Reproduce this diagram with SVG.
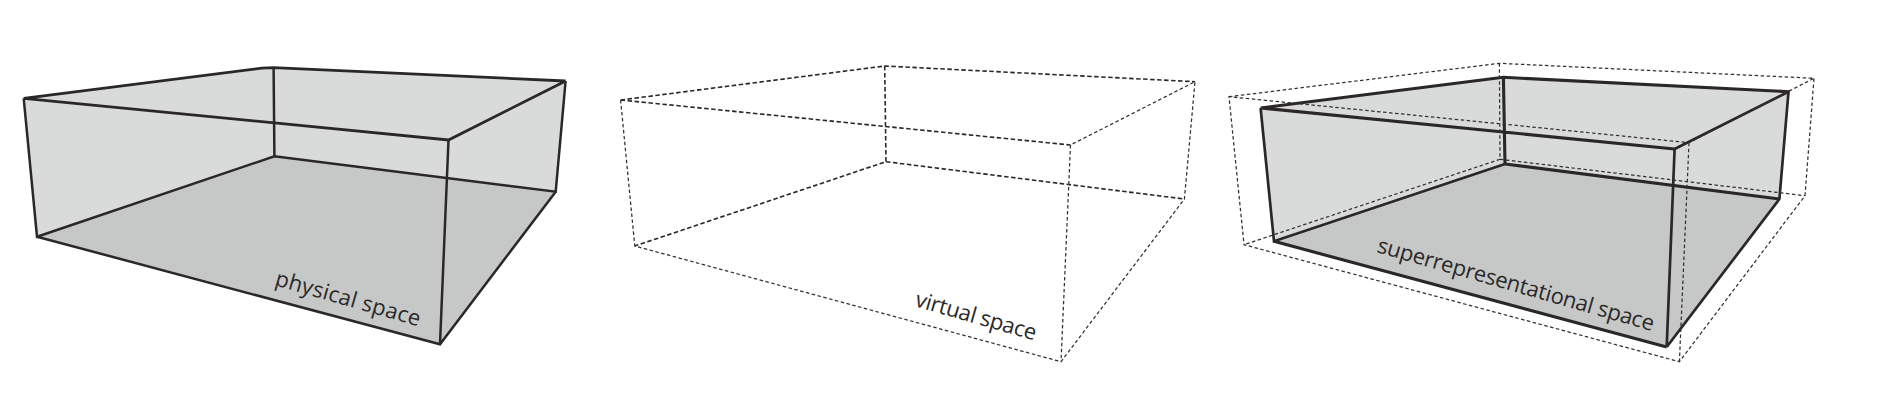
<svg xmlns="http://www.w3.org/2000/svg" width="1886" height="408" viewBox="0 0 1886 408">
<style>
.wall{fill:#d9dbda;stroke:none}
.floor{fill:#c6c8c7;stroke:none}
.e{fill:none;stroke:#2b2728;stroke-linejoin:miter;stroke-linecap:butt}
.s1{stroke-width:2.8}
.s2{stroke-width:2.5}
.s3{stroke-width:3.1}
.s4{stroke-width:2.7}
.d1{stroke-width:1.6;stroke-dasharray:4.5 2.5;stroke:#2a2627}
.d2{stroke-width:1.25;stroke-dasharray:3.5 2.5;stroke:#333031}
.t{font-family:"Open Sans","Noto Sans",sans-serif;font-size:22px;fill:#2b2829}
</style>
<rect width="1886" height="408" fill="#ffffff"/>
<g id="physical-space">
<polygon class="wall" points="23.7,98.3 273.6,67.7 565.6,81 555.7,191.7 440,344.3 37,236.7"/>
<polygon class="floor" points="274.4,156.3 555.7,191.7 440,344.3 37,236.7"/>
<path class="e s1" d="M23.7,98.3L262,68.2L273.6,67.7L565.6,81M23.7,98.3L448.5,140L565.6,81"/>
<path class="e s2" d="M23.7,98.3L37,236.7L274.4,156.3L555.7,191.7L565.6,81M273.6,67.7L274.4,156.3M448.5,140L440,344.3M37,236.7L440,344.3L555.7,191.7"/>
<text class="t" transform="translate(274,285) rotate(16)" textLength="150" lengthAdjust="spacing">physical space</text>
</g>
<g id="virtual-space">
<path class="e d1" d="M620.6,100L884.7,66L1195,81.7M620.6,100L1070.5,145M884.7,66L886,161.7L634.8,246M886,161.7L1184.4,199"/>
<path class="e d2" d="M620.6,100L634.8,246L1061,361.7L1184.4,199L1195,81.7L1070.5,145L1061,361.7"/>
<text class="t" transform="translate(914,306) rotate(16)" textLength="125" lengthAdjust="spacing">virtual space</text>
</g>
<g id="superrepresentational-space">
<polygon class="wall" points="1260.6,108 1503.4,77.3 1788.5,91.7 1779.4,199 1666.7,347 1274,241.3"/>
<polygon class="floor" points="1505,164 1779.4,199 1666.7,347 1274,241.3"/>
<path class="e s3" d="M1260.6,108L1503.4,77.3L1788.5,91.7M1260.6,108L1674.6,149M1503.4,77.3L1505,164M1505,164L1779.4,199M1274,241.3L1666.7,347"/>
<path class="e s4" d="M1260.6,108L1274,241.3L1505,164M1674.6,149L1788.5,91.7L1779.4,199L1666.7,347M1674.6,149L1666.7,347"/>
<path class="e d2" d="M1229,96.7L1499.4,63.3L1814,78.3L1689,142.7L1229,96.7L1244,244.7L1679.4,361.7L1805,195.7L1814,78.3M1499.4,63.3L1500,159.3L1244,244.7M1500,159.3L1805,195.7M1689,142.7L1679.4,361.7"/>
<text class="t" transform="translate(1376,252) rotate(16)" textLength="287" lengthAdjust="spacing">superrepresentational space</text>
</g>
</svg>
